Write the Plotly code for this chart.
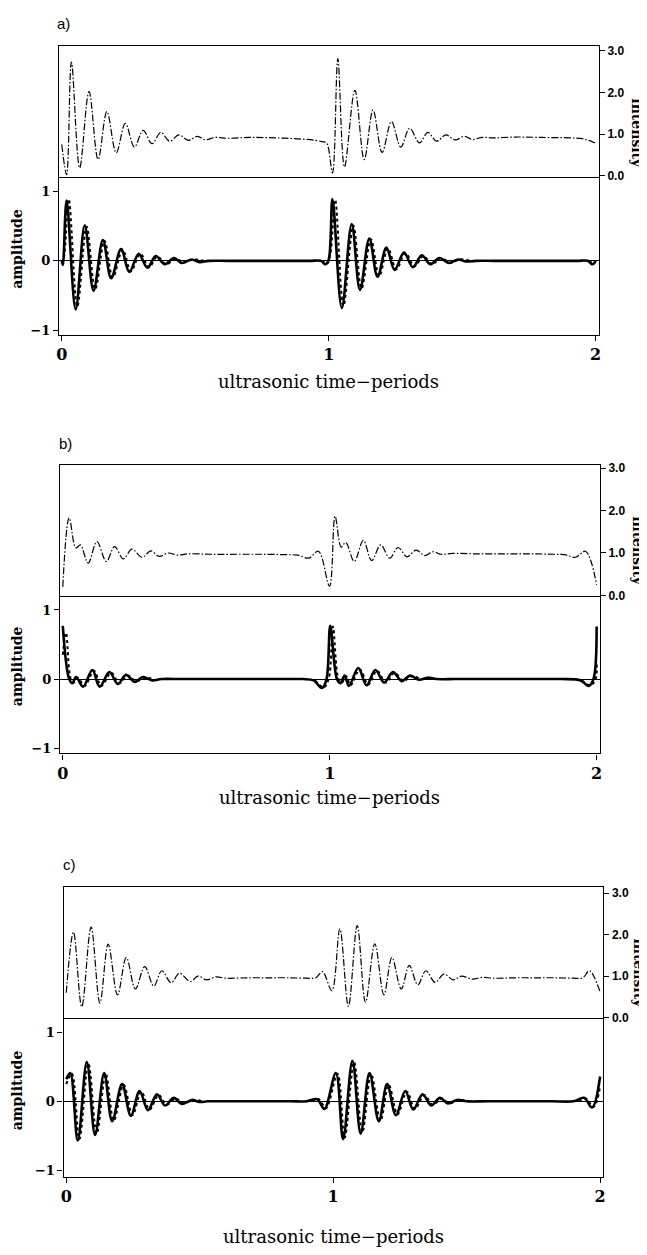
import plotly.graph_objects as go

# page is 647x1255; the browser's default 8px body margin offsets the figure
PAGE_W, PAGE_H, OFF = 647, 1255, 8
W, H = PAGE_W - OFF, PAGE_H - OFF

# ---------------- data ----------------
# panel a
a_int_t = [0.000, 0.018, 0.036, 0.067, 0.102, 0.136, 0.169, 0.204, 0.238, 0.272, 0.305, 0.338, 0.371, 0.404,
           0.439, 0.474, 0.508, 0.538, 0.575, 0.62, 0.70, 0.80, 0.90, 0.95, 0.975, 0.992,
           1.014, 1.034, 1.059, 1.098, 1.133, 1.166, 1.200, 1.235, 1.270, 1.303, 1.340, 1.371, 1.404,
           1.439, 1.474, 1.508, 1.538, 1.575, 1.62, 1.70, 1.80, 1.90, 1.95, 1.975, 2.000]
a_int_v = [0.75, 0.03, 2.73, 0.19, 2.02, 0.39, 1.54, 0.55, 1.26, 0.69, 1.09, 0.77, 1.04, 0.83,
           0.98, 0.85, 0.945, 0.865, 0.92, 0.90, 0.92, 0.91, 0.88, 0.85, 0.82, 0.79,
           0.07, 2.81, 0.21, 2.05, 0.39, 1.58, 0.56, 1.30, 0.69, 1.14, 0.79, 1.04, 0.83,
           0.98, 0.86, 0.95, 0.87, 0.92, 0.91, 0.93, 0.92, 0.91, 0.89, 0.85, 0.78]
a_amp_t = [0.000, 0.004, 0.018, 0.052, 0.086, 0.119, 0.154, 0.185, 0.222, 0.253, 0.288, 0.321, 0.352, 0.386,
           0.420, 0.450, 0.487, 0.516, 0.55, 0.62, 0.70, 0.78, 0.86, 0.93, 0.97, 0.988, 1.000, 1.014,
           1.049, 1.086, 1.117, 1.152, 1.183, 1.216, 1.247, 1.282, 1.315, 1.349, 1.380, 1.415, 1.450,
           1.485, 1.515, 1.55, 1.62, 1.70, 1.78, 1.86, 1.93, 1.97, 1.988, 2.000]
a_amp_v = [0.0, -0.06, 0.87, -0.70, 0.51, -0.43, 0.30, -0.25, 0.17, -0.16, 0.10, -0.10, 0.07, -0.05,
           0.04, -0.03, 0.02, -0.02, 0.0, 0.0, 0.0, 0.0, 0.0, 0.0, 0.0, -0.05, 0.02, 0.89,
           -0.68, 0.53, -0.42, 0.32, -0.23, 0.19, -0.13, 0.12, -0.09, 0.08, -0.05, 0.04, -0.03,
           0.02, -0.01, 0.0, 0.0, 0.0, 0.0, 0.0, 0.0, 0.0, -0.05, 0.0]
a_dot_t = [0.000, 0.008, 0.026, 0.058, 0.093, 0.125, 0.160, 0.191, 0.228, 0.259, 0.294, 0.327, 0.358, 0.392,
           0.426, 0.456, 0.493, 0.53, None, 0.975, 0.994, 1.006, 1.024, 1.055, 1.092, 1.123, 1.158,
           1.189, 1.222, 1.253, 1.288, 1.321, 1.355, 1.386, 1.421, 1.456, 1.49, 1.53, None, 1.975, 1.994, 2.000]
a_dot_v = [-0.03, 0.05, 0.89, -0.66, 0.49, -0.41, 0.29, -0.24, 0.16, -0.15, 0.10, -0.09, 0.06, -0.05,
           0.03, -0.02, 0.02, 0.0, None, 0.0, -0.04, 0.10, 0.88, -0.65, 0.51, -0.40, 0.31,
           -0.22, 0.18, -0.12, 0.11, -0.08, 0.07, -0.05, 0.04, -0.03, 0.02, 0.0, None, 0.0, -0.04, 0.03]

# panel b
b_int_t = [0.000, 0.024, 0.049, 0.066, 0.095, 0.128, 0.163, 0.194, 0.227, 0.259, 0.297, 0.330, 0.361, 0.395,
           0.430, 0.47, 0.55, 0.65, 0.75, 0.84, 0.88, 0.921, 0.958, 0.999, 1.020, 1.043, 1.060, 1.092, 1.126,
           1.157, 1.191, 1.225, 1.256, 1.290, 1.324, 1.355, 1.387, 1.416, 1.46, 1.55, 1.65, 1.75, 1.84, 1.88,
           1.921, 1.958, 2.000]
b_int_v = [0.20, 1.83, 1.12, 1.19, 0.76, 1.27, 0.80, 1.15, 0.86, 1.09, 0.90, 1.05, 0.92, 1.00,
           0.95, 0.98, 0.97, 0.97, 0.97, 0.96, 0.95, 0.88, 1.04, 0.22, 1.87, 1.14, 1.25, 0.80, 1.30,
           0.82, 1.19, 0.88, 1.13, 0.91, 1.07, 0.94, 1.03, 0.97, 0.99, 0.98, 0.98, 0.98, 0.97, 0.96,
           0.90, 1.04, 0.25]
b_amp_t = [0.000, 0.024, 0.036, 0.050, 0.076, 0.111, 0.138, 0.175, 0.206, 0.237, 0.270, 0.300, 0.335, 0.37,
           0.44, 0.52, 0.60, 0.68, 0.76, 0.84, 0.90, 0.94, 0.971, 0.988, 1.002, 1.027, 1.040, 1.056, 1.072,
           1.107, 1.138, 1.171, 1.204, 1.237, 1.270, 1.300, 1.335, 1.367, 1.40, 1.47, 1.55, 1.63, 1.71,
           1.79, 1.87, 1.94, 1.970, 1.988, 2.000]
b_amp_v = [0.77, 0.0, -0.06, 0.03, -0.11, 0.13, -0.11, 0.10, -0.07, 0.06, -0.04, 0.03, -0.02, 0.0,
           0.0, 0.0, 0.0, 0.0, 0.0, 0.0, 0.0, -0.02, -0.13, 0.0, 0.77, 0.0, -0.06, 0.05, -0.10,
           0.16, -0.09, 0.13, -0.05, 0.10, -0.03, 0.05, -0.01, 0.02, 0.0, 0.0, 0.0, 0.0, 0.0,
           0.0, 0.0, -0.02, -0.10, 0.0, 0.76]
b_dot_t = [0.000, 0.012, 0.030, 0.042, 0.056, 0.082, 0.117, 0.144, 0.181, 0.212, 0.243, 0.276, 0.306, 0.34,
           None, 0.945, 0.977, 0.996, 1.012, 1.033, 1.046, 1.062, 1.078, 1.113, 1.144, 1.177, 1.210,
           1.243, 1.276, 1.306, 1.34, None, 1.945, 1.977, 1.996, 2.000]
b_dot_v = [0.35, 0.67, 0.0, -0.05, 0.02, -0.10, 0.12, -0.10, 0.09, -0.06, 0.05, -0.03, 0.02, 0.0,
           None, -0.02, -0.12, 0.0, 0.76, 0.0, -0.05, 0.04, -0.09, 0.14, -0.08, 0.12, -0.05,
           0.09, -0.03, 0.04, 0.0, None, -0.02, -0.09, 0.0, 0.25]

# panel c
c_int_t = [0.000, 0.027, 0.058, 0.093, 0.126, 0.157, 0.192, 0.225, 0.259, 0.294, 0.328, 0.358, 0.393, 0.424,
           0.465, 0.493, 0.527, 0.56, 0.60, 0.68, 0.76, 0.84, 0.90, 0.935, 0.960, 0.995, 1.025, 1.057, 1.090,
           1.121, 1.156, 1.190, 1.220, 1.255, 1.285, 1.317, 1.347, 1.382, 1.415, 1.450, 1.480, 1.520,
           1.56, 1.60, 1.68, 1.76, 1.84, 1.90, 1.935, 1.960, 2.000]
c_int_v = [0.60, 2.06, 0.26, 2.18, 0.35, 1.77, 0.55, 1.45, 0.69, 1.23, 0.76, 1.13, 0.84, 1.07,
           0.87, 1.00, 0.91, 0.98, 0.95, 0.96, 0.96, 0.96, 0.95, 0.96, 1.11, 0.65, 2.14, 0.27, 2.22,
           0.37, 1.78, 0.55, 1.45, 0.69, 1.26, 0.79, 1.13, 0.85, 1.05, 0.91, 1.00, 0.93,
           0.97, 0.95, 0.96, 0.96, 0.96, 0.95, 0.96, 1.13, 0.62]
c_amp_t = [0.000, 0.015, 0.043, 0.077, 0.108, 0.142, 0.172, 0.209, 0.242, 0.275, 0.306, 0.340, 0.370, 0.403,
           0.433, 0.470, 0.50, 0.53, 0.60, 0.68, 0.76, 0.84, 0.90, 0.94, 0.967, 1.010, 1.037, 1.072,
           1.103, 1.136, 1.171, 1.202, 1.235, 1.270, 1.300, 1.335, 1.367, 1.400, 1.430, 1.465, 1.50,
           1.58, 1.66, 1.74, 1.82, 1.90, 1.94, 1.970, 2.000]
c_amp_v = [0.32, 0.41, -0.57, 0.57, -0.49, 0.41, -0.29, 0.25, -0.21, 0.15, -0.13, 0.10, -0.06, 0.05,
           -0.04, 0.02, -0.01, 0.0, 0.0, 0.0, 0.0, 0.0, 0.0, 0.03, -0.11, 0.41, -0.55, 0.59,
           -0.47, 0.41, -0.29, 0.25, -0.20, 0.15, -0.12, 0.10, -0.06, 0.05, -0.03, 0.02, 0.0,
           0.0, 0.0, 0.0, 0.0, 0.0, 0.05, -0.09, 0.36]
c_dot_t = [0.000, 0.021, 0.049, 0.083, 0.114, 0.148, 0.178, 0.215, 0.248, 0.281, 0.312, 0.346, 0.376, 0.410,
           0.440, 0.476, 0.51, None, 0.92, 0.946, 0.973, 1.016, 1.043, 1.078, 1.109, 1.142, 1.177, 1.208,
           1.241, 1.276, 1.306, 1.341, 1.373, 1.406, 1.436, 1.47, 1.51, None, 1.92, 1.946, 1.976, 2.000]
c_dot_v = [0.25, 0.40, -0.55, 0.55, -0.47, 0.40, -0.28, 0.24, -0.20, 0.14, -0.12, 0.09, -0.05, 0.04,
           -0.03, 0.02, 0.0, None, 0.0, 0.03, -0.10, 0.40, -0.53, 0.57, -0.45, 0.40, -0.28, 0.24,
           -0.19, 0.14, -0.11, 0.09, -0.05, 0.04, -0.03, 0.02, 0.0, None, 0.0, 0.04, -0.08, 0.22]

x_tickvals = [0, 1, 2]
x_ticktext = ["0", "1", "2"]
amp_tickvals = [-1, 0, 1]
amp_ticktext = ["\u22121", "0", "1"]
int_tickvals = [0, 1, 2, 3]
int_ticktext = ["0.0", "1.0", "2.0", "3.0"]
panel_labels = ["a)", "b)", "c)"]
x_title = "ultrasonic time\u2212periods"
amp_title = "amplitude"
int_title = "intensity"

series = [
    (a_int_t, a_int_v, a_amp_t, a_amp_v, a_dot_t, a_dot_v),
    (b_int_t, b_int_v, b_amp_t, b_amp_v, b_dot_t, b_dot_v),
    (c_int_t, c_int_v, c_amp_t, c_amp_v, c_dot_t, c_dot_v),
]

# ---------------- layout geometry (page pixels) ----------------
geom = [
    dict(l=56.5, r=600.5, top=42.5, mid=174.5, bot=334, irng=[-0.03, 3.11], arng=[-1.07, 1.207],
         lab=(61, 20), ttl=381, ylab=247, ilab=130, ilx=639.5),
    dict(l=57.5, r=601.5, top=465.3, mid=597, bot=756, irng=[-0.01, 3.07], arng=[-1.076, 1.205],
         lab=(63, 443), ttl=800, ylab=668, ilab=552, ilx=640),
    dict(l=61, r=605, top=890.7, mid=1023, bot=1183, irng=[-0.01, 3.15], arng=[-1.094, 1.209],
         lab=(67, 868), ttl=1243, ylab=1096, ilab=978, ilx=641),
]
xrng = [-0.01, 2.012]

fx = lambda px: (px - OFF) / W
fy = lambda py: 1 - (py - OFF) / H

fig = go.Figure()
layout = dict(width=W, height=H, margin=dict(l=0, r=0, t=0, b=0),
              paper_bgcolor="white", plot_bgcolor="white", showlegend=False,
              annotations=[])

serif_b = dict(family="DejaVu Serif", color="black", weight="bold")

for p, (g, s) in enumerate(zip(geom, series)):
    it, iv, at, av, dt, dv = s
    xi, yi = 2 * p + 1, 2 * p + 1
    xa, ya = 2 * p + 2, 2 * p + 2
    fig.add_trace(go.Scatter(x=it, y=iv, xaxis=f"x{xi}", yaxis=f"y{yi}", mode="lines",
                             line=dict(color="black", width=1.2, dash="7px,2px,1.5px,2px",
                                       shape="spline", smoothing=1.0), hoverinfo="skip"))
    fig.add_trace(go.Scatter(x=dt, y=dv, xaxis=f"x{xa}", yaxis=f"y{ya}", mode="lines",
                             line=dict(color="black", width=2, dash="dot", shape="spline", smoothing=1.0),
                             connectgaps=False, hoverinfo="skip"))
    fig.add_trace(go.Scatter(x=at, y=av, xaxis=f"x{xa}", yaxis=f"y{ya}", mode="lines",
                             line=dict(color="black", width=2.6, shape="spline", smoothing=1.0),
                             hoverinfo="skip"))
    common = dict(showgrid=False, linecolor="black", linewidth=1.3, showline=True,
                  tickcolor="black", tickwidth=1.2, ticklen=5)
    layout[f"xaxis{xi}"] = dict(common, domain=[fx(g["l"]), fx(g["r"])], range=xrng, anchor=f"y{yi}",
                                mirror=True, showticklabels=False, ticks="", zeroline=False)
    layout[f"yaxis{yi}"] = dict(common, domain=[fy(g["mid"]), fy(g["top"])], range=g["irng"],
                                anchor=f"x{xi}", side="right", ticks="outside", zeroline=False, mirror=True,
                                tickvals=int_tickvals, ticktext=int_ticktext,
                                tickfont=dict(family="Liberation Sans", size=12, color="black", weight="bold"))
    layout[f"xaxis{xa}"] = dict(common, domain=[fx(g["l"]), fx(g["r"])], range=xrng, anchor=f"y{ya}",
                                mirror=False, ticks="outside", zeroline=False,
                                tickvals=x_tickvals, ticktext=x_ticktext,
                                tickfont=dict(serif_b, size=16))
    layout[f"yaxis{ya}"] = dict(common, domain=[fy(g["bot"]), fy(g["mid"])], range=g["arng"],
                                anchor=f"x{xa}", side="left", ticks="outside", mirror=True,
                                zeroline=True, zerolinecolor="black", zerolinewidth=1.2,
                                tickvals=amp_tickvals, ticktext=amp_ticktext,
                                tickfont=dict(serif_b, size=13))
    layout["annotations"] += [
        dict(text=panel_labels[p], x=fx(g["lab"][0]), y=fy(g["lab"][1]), xref="paper", yref="paper",
             showarrow=False, xanchor="center", yanchor="middle",
             font=dict(family="Liberation Sans", size=15, color="black")),
        dict(text=x_title, x=fx((g["l"] + g["r"]) / 2), y=fy(g["ttl"]), xref="paper", yref="paper",
             showarrow=False, xanchor="center", yanchor="middle",
             font=dict(family="DejaVu Serif", size=18, color="black")),
        dict(text=amp_title, x=fx(14), y=fy(g["ylab"]), xref="paper", yref="paper", textangle=-90,
             showarrow=False, xanchor="center", yanchor="middle", font=dict(serif_b, size=14)),
        dict(text=int_title, x=fx(g["ilx"]), y=fy(g["ilab"]), xref="paper", yref="paper", textangle=90,
             showarrow=False, xanchor="center", yanchor="middle", font=dict(serif_b, size=14)),
    ]

fig.update_layout(**layout)
fig.write_html("out.html")
